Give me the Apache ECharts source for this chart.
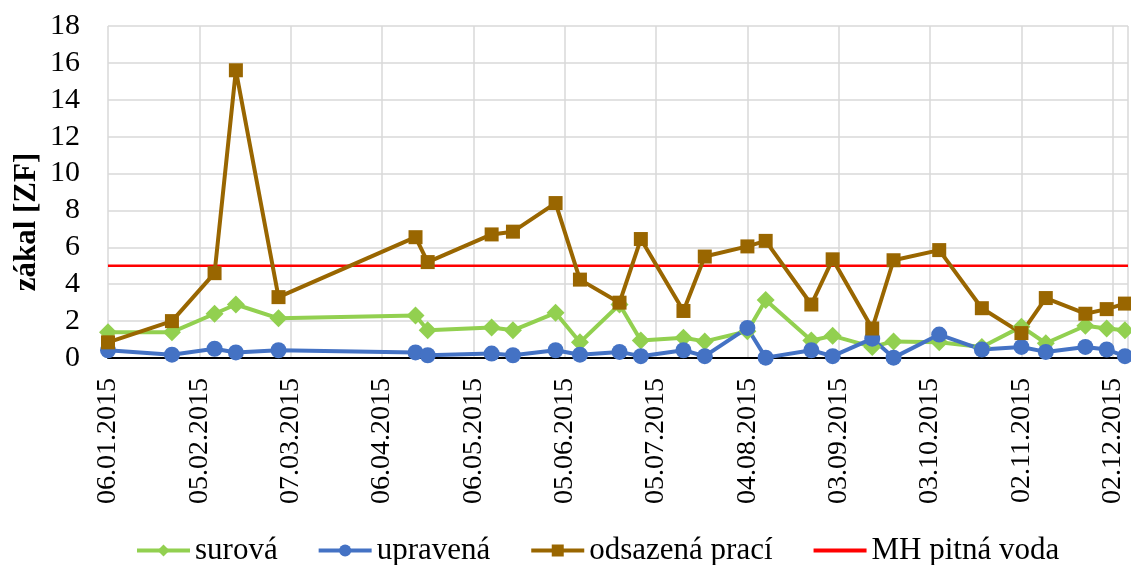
<!DOCTYPE html>
<html>
<head>
<meta charset="utf-8">
<script src="https://cdn.jsdelivr.net/npm/echarts@6/dist/echarts.min.js"></script>
<style>
  html, body { margin: 0; padding: 0; background: #fff; }
  #chart { width: 1131px; height: 565px; }
</style>
</head>
<body>
<div id="chart"></div>
<script>
// sampling dates (2015)
const dates = ["2015-01-06", "2015-01-27", "2015-02-10", "2015-02-17", "2015-03-03",
  "2015-04-17", "2015-04-21", "2015-05-12", "2015-05-19", "2015-06-02", "2015-06-10",
  "2015-06-23", "2015-06-30", "2015-07-14", "2015-07-21", "2015-08-04", "2015-08-10",
  "2015-08-25", "2015-09-01", "2015-09-14", "2015-09-21", "2015-10-06", "2015-10-20",
  "2015-11-02", "2015-11-10", "2015-11-23", "2015-11-30", "2015-12-06"];

const surova = [1.4, 1.4, 2.4, 2.9, 2.15, 2.3, 1.5, 1.65, 1.5, 2.45, 0.85, 2.9, 0.95, 1.1,
  0.9, 1.45, 3.15, 0.95, 1.2, 0.6, 0.9, 0.85, 0.6, 1.7, 0.8, 1.75, 1.6, 1.5];
const upravena = [0.42, 0.18, 0.5, 0.3, 0.42, 0.3, 0.15, 0.24, 0.15, 0.42, 0.18, 0.33, 0.1,
  0.42, 0.1, 1.63, 0.02, 0.42, 0.1, 1.05, 0.02, 1.27, 0.46, 0.6, 0.33, 0.6, 0.46, 0.1];
const odsazena = [0.85, 2.0, 4.6, 15.6, 3.3, 6.55, 5.2, 6.7, 6.85, 8.4, 4.25, 3.0, 6.45, 2.55,
  5.5, 6.05, 6.35, 2.9, 5.35, 1.6, 5.3, 5.85, 2.7, 1.35, 3.25, 2.4, 2.65, 2.95];
const mhLimit = 5;

const axisStart = "2015-01-06";
const axisEnd = "2015-12-07";
const tickDays = 30;

const DAY = 86400000;
function toUtc(s) {
  const p = s.split("-").map(Number);
  return Date.UTC(p[0], p[1] - 1, p[2]);
}
const base = toUtc(axisStart);
function dayOf(s) { return Math.round((toUtc(s) - base) / DAY); }
function fmt(off) {
  const d = new Date(base + off * DAY);
  const dd = String(d.getUTCDate()).padStart(2, "0");
  const mm = String(d.getUTCMonth() + 1).padStart(2, "0");
  return dd + "." + mm + "." + d.getUTCFullYear();
}
function pairs(vals) { return dates.map((s, i) => [dayOf(s), vals[i]]); }

const font = "Liberation Serif";
const chart = echarts.init(document.getElementById("chart"));

chart.setOption({
  animation: false,
  textStyle: { fontFamily: font },
  grid: { left: 108, right: 3, top: 26, bottom: 207 },
  legend: {
    left: 130, top: 530,
    itemWidth: 53, itemHeight: 15, itemGap: 39,
    lineStyle: { width: 4 },
    textStyle: { fontFamily: font, fontSize: 31, color: "#000" },
    data: ["surová", "upravená", "odsazená prací", "MH pitná voda"]
  },
  xAxis: {
    type: "value",
    min: 0, max: dayOf(axisEnd), interval: tickDays,
    axisLine: { show: true, onZero: false, lineStyle: { color: "#000", width: 2 } },
    axisTick: { show: false },
    splitLine: { show: true, lineStyle: { color: "#d9d9d9", width: 1.5 } },
    axisLabel: {
      rotate: 90, margin: 20, color: "#000", fontFamily: font, fontSize: 28,
      showMaxLabel: false,
      formatter: (v) => fmt(v)
    }
  },
  yAxis: {
    type: "value",
    min: 0, max: 18, interval: 2,
    axisLine: { show: false },
    axisTick: { show: false },
    splitLine: { lineStyle: { color: "#d9d9d9", width: 1.5 } },
    axisLabel: { margin: 28, color: "#000", fontFamily: font, fontSize: 30 }
  },
  graphic: [{
    type: "text",
    x: 27, y: 222, rotation: Math.PI / 2,
    style: {
      text: "zákal [ZF]", fill: "#000",
      font: "bold 31px 'Liberation Serif'",
      align: "center", verticalAlign: "middle"
    }
  }],
  series: [
    {
      name: "surová", type: "line", data: pairs(surova),
      symbol: "diamond", symbolSize: 18,
      lineStyle: { color: "#92d050", width: 4 },
      itemStyle: { color: "#92d050" }
    },
    {
      name: "upravená", type: "line", data: pairs(upravena),
      symbol: "circle", symbolSize: 16,
      lineStyle: { color: "#4472c4", width: 4 },
      itemStyle: { color: "#4472c4" }
    },
    {
      name: "odsazená prací", type: "line", data: pairs(odsazena),
      symbol: "rect", symbolSize: 14,
      lineStyle: { color: "#996600", width: 4 },
      itemStyle: { color: "#996600" }
    },
    {
      name: "MH pitná voda", type: "line",
      data: [[0, mhLimit], [dayOf(axisEnd), mhLimit]],
      symbol: "none", z: 1,
      lineStyle: { color: "#ff0000", width: 2.5 },
      itemStyle: { color: "rgba(0,0,0,0)" }
    }
  ]
});
</script>
</body>
</html>
